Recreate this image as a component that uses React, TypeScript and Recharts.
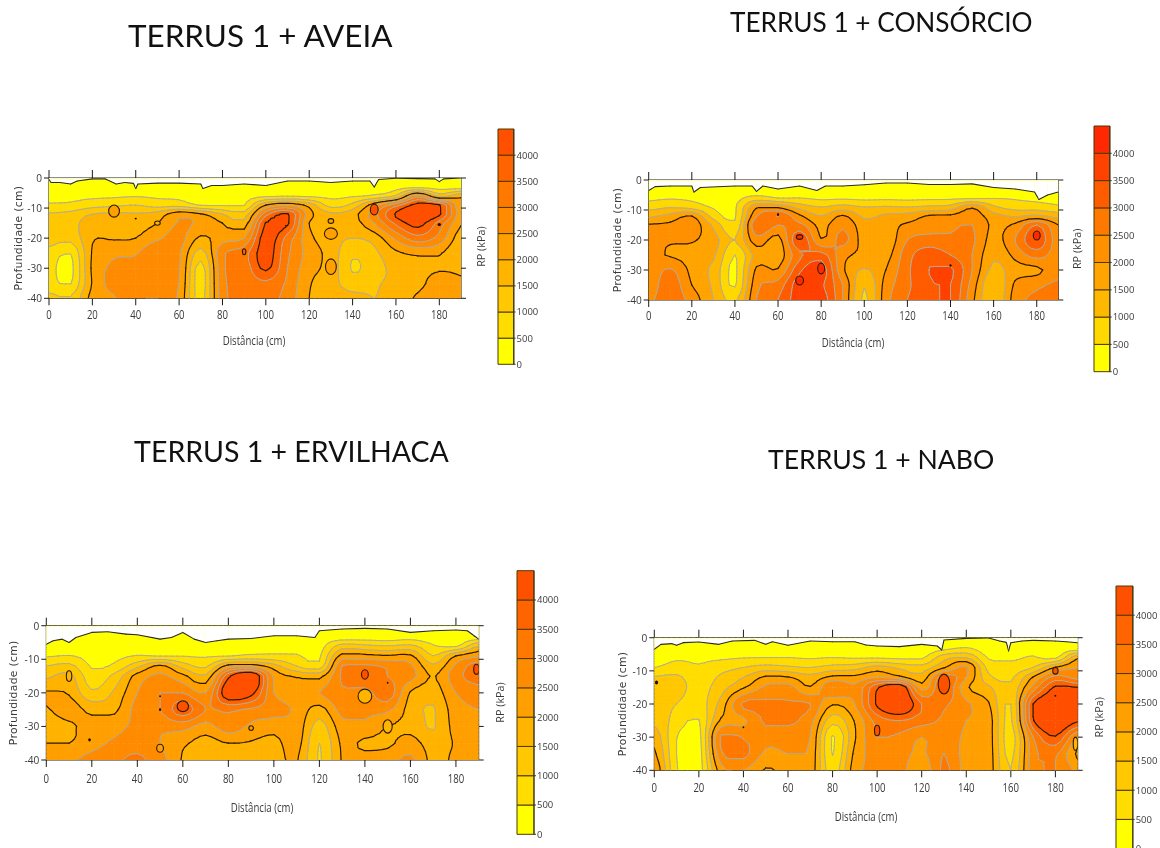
import React from 'react';
import { ComposedChart, BarChart, Bar, Scatter, XAxis, YAxis, Label } from 'recharts';

// ---------- shared axis values ----------
const distanceCols = [0, 10, 20, 30, 40, 50, 60, 70, 80, 90, 100, 110, 120, 130, 140, 150, 160, 170, 180, 190];
const depthRows = [0, -3, -6, -9, -12, -15, -20, -25, -30, -35, -40];
const xTicks = [0, 20, 40, 60, 80, 100, 120, 140, 160, 180];
const yTicks = [0, -10, -20, -30, -40];
const rpTicks = [0, 500, 1000, 1500, 2000, 2500, 3000, 3500, 4000];
const rpBands = ['b0', 'b1', 'b2', 'b3', 'b4', 'b5', 'b6', 'b7', 'b8'];
const paletteStd = ['#FFFF00', '#FFDD00', '#FFC800', '#FFB400', '#FFA000', '#FF8C00', '#FF7800', '#FF6400', '#FF5000'];
const paletteCon = ['#FFFF00', '#FFD800', '#FFB800', '#FFA400', '#FF9000', '#FF7800', '#FF5C00', '#FF4200', '#FF2800'];

// ---------- RP (kPa) per distance column, top to bottom along depthRows ----------
const aveiaGrid = [
  [0, 200, 380, 560, 1050, 1200, 1250, 800, 650, 700, 1150],
  [0, 200, 370, 600, 1150, 1300, 1150, 520, 350, 480, 1050],
  [0, 180, 400, 800, 1500, 1800, 1950, 2050, 2100, 2050, 2200],
  [0, 220, 430, 900, 1600, 1750, 1950, 2400, 2600, 2700, 2450],
  [0, 230, 470, 1000, 1550, 1800, 2000, 2450, 2700, 2800, 2900],
  [0, 210, 420, 800, 1700, 2000, 2400, 3000, 2650, 2900, 3000],
  [0, 200, 400, 800, 2300, 2550, 2700, 2600, 2550, 2500, 2400],
  [0, 180, 330, 470, 2050, 2400, 1900, 1300, 800, 750, 800],
  [0, 170, 320, 450, 1500, 2000, 2300, 2900, 2900, 2850, 2800],
  [0, 170, 320, 480, 1200, 1700, 2500, 3300, 3200, 3100, 3100],
  [0, 180, 400, 2000, 3300, 4050, 4300, 4300, 4100, 3400, 3200],
  [0, 190, 480, 2400, 4050, 4100, 3300, 3100, 3000, 2900, 2800],
  [0, 200, 420, 1800, 2200, 2000, 2150, 2300, 2200, 2050, 2000],
  [0, 200, 400, 800, 1600, 1700, 1700, 1800, 1800, 1700, 1700],
  [0, 220, 450, 1150, 1800, 1750, 1500, 1100, 950, 1250, 1650],
  [0, 240, 600, 2300, 2800, 2500, 1700, 1400, 1300, 1450, 1500],
  [0, 300, 1100, 3300, 4050, 3600, 2600, 1900, 1650, 1600, 1650],
  [0, 350, 2800, 4200, 4400, 4200, 3300, 2100, 1800, 1800, 2100],
  [0, 300, 1400, 4050, 4100, 3300, 2800, 2050, 1950, 2300, 2500],
  [0, 250, 1900, 2100, 2200, 2050, 1700, 1500, 1900, 2050, 2100],
];
const consorcioGrid = [
  [0, 100, 380, 800, 1400, 2050, 2200, 2150, 2150, 2200, 2400],
  [0, 200, 450, 950, 1650, 2100, 2050, 1950, 2550, 2800, 2800],
  [0, 150, 400, 800, 2000, 2300, 2050, 1800, 1850, 2000, 2300],
  [0, 200, 320, 450, 800, 1400, 1700, 1600, 1350, 1400, 1500],
  [0, 200, 350, 420, 450, 600, 1000, 500, 400, 450, 900],
  [0, 130, 700, 1900, 2450, 2900, 2300, 1700, 2100, 2350, 2500],
  [0, 200, 500, 1900, 3000, 2500, 1800, 1700, 2050, 2700, 3000],
  [0, 220, 500, 1300, 2100, 2650, 3400, 2900, 3400, 3800, 3800],
  [0, 180, 400, 1000, 1500, 1850, 2050, 3200, 3800, 3600, 3800],
  [0, 200, 420, 1200, 2050, 2400, 2650, 2200, 2100, 2500, 2500],
  [0, 180, 380, 1000, 1400, 1700, 1750, 1850, 1450, 1050, 900],
  [0, 180, 400, 1050, 1600, 1750, 1600, 1800, 2000, 2200, 2300],
  [0, 170, 380, 1000, 1700, 2100, 2500, 2800, 2900, 2900, 3000],
  [0, 170, 400, 1100, 2050, 2250, 2700, 3300, 3500, 3400, 3300],
  [0, 180, 400, 1200, 2100, 2400, 2600, 3000, 3600, 3500, 3500],
  [0, 170, 420, 1900, 2300, 2500, 2600, 2500, 2500, 2300, 2150],
  [0, 350, 480, 1100, 1700, 1900, 1800, 1600, 1350, 1000, 1000],
  [0, 300, 450, 800, 1450, 2100, 2500, 2150, 1800, 2100, 2250],
  [0, 0, 350, 750, 1600, 3000, 3400, 2700, 1900, 2400, 2600],
  [0, 50, 300, 600, 1300, 2000, 2200, 2200, 2300, 2600, 2600],
];
const ervilhacaGrid = [
  [0, 0, 150, 450, 1000, 1400, 2050, 1950, 1700, 2000, 2300],
  [0, 0, 200, 520, 1150, 1650, 1950, 2250, 1900, 2000, 2400],
  [0, 150, 280, 350, 450, 700, 1100, 1850, 2200, 2300, 2700],
  [0, 150, 280, 370, 600, 1150, 1600, 1900, 2300, 2600, 2900],
  [0, 180, 350, 520, 1350, 2200, 2500, 2700, 2650, 2800, 3100],
  [0, 0, 280, 480, 2100, 2600, 3000, 3000, 2600, 2500, 2700],
  [0, 180, 320, 480, 1300, 2150, 3000, 3800, 2700, 2100, 1950],
  [0, 0, 280, 450, 900, 1600, 2500, 3000, 2300, 1800, 1750],
  [0, 0, 300, 480, 2200, 3850, 4500, 3100, 2800, 2000, 1800],
  [0, 0, 350, 600, 2300, 4700, 4200, 2900, 2400, 1950, 1800],
  [0, 100, 350, 600, 1700, 2400, 2500, 2700, 2200, 1850, 1800],
  [0, 100, 330, 550, 1000, 1950, 2300, 2400, 2300, 2200, 2050],
  [0, 150, 300, 420, 700, 1850, 2500, 1800, 1300, 1000, 950],
  [0, 100, 1200, 2200, 3000, 3100, 2900, 2700, 2300, 2100, 2050],
  [0, 150, 1100, 2150, 3100, 3500, 2800, 2600, 2400, 1900, 2200],
  [0, 130, 1000, 2050, 2900, 3000, 3300, 2600, 2000, 1900, 2300],
  [0, 200, 1100, 2100, 2600, 2700, 1950, 1800, 1850, 2200, 2600],
  [0, 150, 550, 1000, 1600, 1950, 1700, 1450, 1450, 1750, 1850],
  [0, 150, 400, 2000, 2600, 2800, 2500, 2300, 2200, 2050, 2100],
  [0, 0, 1500, 2400, 3300, 3300, 2700, 2500, 2400, 2200, 2100],
];
const naboGrid = [
  [0, 50, 250, 500, 1050, 1150, 1200, 1400, 1800, 2100, 2400],
  [0, 200, 420, 700, 1100, 1200, 1000, 800, 520, 500, 550],
  [0, 200, 400, 550, 700, 800, 750, 480, 300, 250, 250],
  [0, 200, 420, 800, 1100, 1300, 1700, 2100, 3100, 2900, 2300],
  [0, 200, 480, 1000, 1500, 1950, 3100, 2400, 2950, 3150, 2500],
  [0, 100, 500, 1200, 2100, 2600, 3100, 3100, 2700, 2400, 1950],
  [0, 100, 500, 1100, 2050, 2700, 3050, 3100, 2700, 2500, 2200],
  [0, 200, 450, 1000, 1700, 2050, 3000, 2700, 2500, 2400, 2300],
  [0, 200, 500, 1200, 2150, 3000, 2050, 1200, 450, 480, 700],
  [0, 200, 450, 1300, 2150, 2600, 2500, 2050, 1950, 2150, 2300],
  [0, 150, 450, 1700, 2500, 3900, 4100, 3200, 3000, 2700, 2600],
  [0, 100, 400, 1400, 2200, 4600, 4800, 3500, 2900, 2700, 2700],
  [0, 120, 420, 1200, 1700, 2300, 3500, 3200, 2500, 2400, 2100],
  [0, 300, 1300, 1950, 3300, 3500, 3100, 2900, 2800, 3000, 3100],
  [0, 500, 1500, 2600, 2500, 2100, 2600, 2500, 2400, 2300, 2300],
  [0, 150, 450, 800, 1150, 1600, 2050, 2250, 2250, 2250, 2250],
  [0, 150, 400, 700, 900, 1100, 1000, 900, 750, 850, 1000],
  [0, 300, 550, 1000, 2050, 2700, 4000, 3950, 3000, 2800, 2800],
  [0, 150, 400, 2050, 3200, 4100, 4700, 4700, 3950, 3100, 3000],
  [0, 100, 1900, 2500, 2800, 4000, 4500, 4100, 2500, 1900, 2400],
];

// ---------- soil surface traces: distance and depth ----------
const aveiaSurfX = [0, 1, 5, 10, 13, 20, 26, 31, 35, 39, 40, 41, 50, 60, 70, 71, 75, 80, 90, 100, 110, 120, 130, 140, 148, 150, 152, 160, 170, 178, 180, 182, 190];
const aveiaSurfD = [-0.5, -1.5, -1.5, -2, -1, -0.3, -0.3, -2, -1.5, -1.8, -3.5, -2, -1.7, -1.7, -2, -3.5, -2.5, -2.5, -2, -2.5, -1, -1, -1.5, -1, -1, -3, -0.5, -0.1, -0.2, -0.3, -1.2, -0.3, 0];
const consorcioSurfX = [0, 3, 10, 20, 21, 24, 40, 48, 50, 53, 60, 70, 78, 82, 90, 100, 110, 120, 130, 140, 150, 160, 170, 179, 181, 185, 190];
const consorcioSurfD = [-3.5, -2.2, -2, -2, -4, -2.5, -2, -2, -3.8, -2, -3, -2, -3.5, -2, -2, -1.6, -1, -1, -1.5, -1.5, -1.3, -2.5, -3, -4, -6.5, -5, -4];
const ervilhacaSurfX = [0, 3, 7, 10, 13, 20, 27, 35, 40, 50, 55, 60, 65, 70, 75, 80, 90, 100, 110, 118, 120, 130, 140, 150, 160, 170, 180, 185, 188, 190];
const ervilhacaSurfD = [-5.5, -4.5, -4, -5, -3.5, -2, -1.8, -2.5, -2.7, -4, -3.5, -2, -4, -5, -4.5, -4, -3.8, -3, -3, -3.5, -1.5, -1, -0.8, -1, -2, -1.5, -1.3, -1.5, -3, -4];
const naboSurfX = [0, 3, 8, 10, 13, 20, 29, 35, 45, 50, 53, 60, 70, 80, 90, 95, 100, 110, 120, 127, 129, 130, 140, 150, 155, 158, 159, 160, 165, 170, 180, 185, 190];
const naboSurfD = [-3.5, -2, -1.8, -2.3, -1.5, -1.3, -2, -1, -0.8, -2, -1.2, -2.3, -1, -1.2, -1.2, -2.2, -2.5, -2.7, -2, -2.5, -3.7, -0.7, -0.2, -0.1, -1, -1.4, -4, -1.5, -1, -0.8, -1, -1.2, -1.5];

// ---------- small closed contours and dots: x, depth, half-width, half-height, RP ----------
const aveiaSpots = [[30, -11, 2.5, 2, 2100], [40, -13.5, 0.5, 0.3, -1], [50, -15, 1.3, 0.7, 1900], [90, -24.5, 0.8, 1, 3800], [150, -10.5, 1.8, 1.8, 4100], [130, -14.3, 1.3, 0.8, 2100], [130, -18.5, 3, 1.9, 2100], [130, -29.5, 2.5, 2.6, 2100], [180, -15.5, 0.8, 0.5, -1]];
const consorcioSpots = [[70, -19, 1.5, 0.8, 4100], [70, -33.5, 1.8, 1.5, 4100], [80, -29.5, 1.6, 1.8, 4100], [60, -11.5, 0.5, 0.5, -1], [140, -28.5, 0.5, 0.4, -1], [180, -18.5, 1.6, 1.5, 4100]];
const ervilhacaSpots = [[10, -15, 1.2, 1.6, 1900], [19, -34, 0.6, 0.5, -1], [50, -21, 0.4, 0.3, -1], [50, -25, 0.5, 0.4, -1], [60, -24, 2.5, 1.6, 4100], [50, -36.5, 1.5, 1.2, 2100], [90, -30.5, 1, 0.7, 2100], [140, -14.5, 1.5, 1.4, 4100], [140, -21, 3, 2.1, 1800], [150, -17, 0.4, 0.3, -1], [150, -30, 2, 2, 1900], [189, -13, 1.2, 1.5, 4100]];
const naboSpots = [[1, -13.5, 0.7, 0.6, -1], [40, -27, 0.4, 0.3, -1], [100, -28, 1.2, 1.6, 4100], [130, -14, 2.6, 3, 4100], [180, -10, 1.2, 1, 4100], [180, -17.5, 0.4, 0.3, -1], [189, -32, 1, 2, 1900]];

// ---------- contour helpers ----------
type V = { x: number; y: number; v: number };
const SUB = 4;
const STEP = 500;
const TOP_LEVEL = 4000;

const cubic = (a: number, b: number, c: number, d: number, t: number) => {
  const r = 0.5 * (2 * b + (c - a) * t + (2 * a - 5 * b + 4 * c - d) * t * t + (3 * b - a - 3 * c + d) * t * t * t);
  return Math.max(Math.min(a, b, c, d), Math.min(Math.max(a, b, c, d), r));
};
const sampleGrid = (g: number[][], i: number, j: number, s: number, t: number) => {
  const col = (k: number) => {
    const c = g[Math.max(0, Math.min(g.length - 1, k))];
    const at = (m: number) => c[Math.max(0, Math.min(c.length - 1, m))];
    return cubic(at(j - 1), at(j), at(j + 1), at(j + 2), t);
  };
  return cubic(col(i - 1), col(i), col(i + 1), col(i + 2), s);
};
const clipPoly = (poly: V[], level: number, above: boolean) => {
  const out: V[] = [];
  poly.forEach((p, k) => {
    const q = poly[(k + 1) % poly.length];
    const pin = above ? p.v >= level : p.v <= level;
    const qin = above ? q.v >= level : q.v <= level;
    if (pin) out.push(p);
    if (pin !== qin) {
      const f = (level - p.v) / (q.v - p.v);
      out.push({ x: p.x + (q.x - p.x) * f, y: p.y + (q.y - p.y) * f, v: level });
    }
  });
  return out;
};
const subTriangles = (g: number[][], i: number, j: number, cx: number, cy: number, cw: number, ch: number) => {
  const tris: V[][] = [];
  const pt = (a: number, b: number): V => ({
    x: cx + (cw * a) / SUB,
    y: cy + (ch * b) / SUB,
    v: sampleGrid(g, i, j, a / SUB, b / SUB) + 0.37,
  });
  for (let a = 0; a < SUB; a++) {
    for (let b = 0; b < SUB; b++) {
      const p00 = pt(a, b), p10 = pt(a + 1, b), p01 = pt(a, b + 1), p11 = pt(a + 1, b + 1);
      tris.push([p00, p10, p11], [p00, p11, p01]);
    }
  }
  return tris;
};
const f1 = (n: number) => n.toFixed(1);

const FillCell = (p: any) => {
  const { cx, cy, payload, grid, palette, sx, sy } = p;
  const { i, j } = payload;
  const cw = (distanceCols[i + 1] - distanceCols[i]) * sx;
  const ch = (depthRows[j] - depthRows[j + 1]) * sy;
  const paths: string[] = palette.map(() => '');
  subTriangles(grid, i, j, cx, cy, cw, ch).forEach((tri) => {
    palette.forEach((_: string, k: number) => {
      let poly = clipPoly(tri, k * STEP, true);
      if (k < palette.length - 1 && poly.length) poly = clipPoly(poly, (k + 1) * STEP, false);
      if (poly.length >= 3) paths[k] += 'M' + poly.map((q) => f1(q.x) + ' ' + f1(q.y)).join('L') + 'Z';
    });
  });
  return (
    <g>
      {paths.map((d, k) => (d ? <path key={k} d={d} fill={palette[k]} stroke={palette[k]} strokeWidth={0.6} /> : null))}
    </g>
  );
};

const LineCell = (p: any) => {
  const { cx, cy, payload, grid, sx, sy } = p;
  const { i, j } = payload;
  const cw = (distanceCols[i + 1] - distanceCols[i]) * sx;
  const ch = (depthRows[j] - depthRows[j + 1]) * sy;
  let grey = '';
  let black = '';
  subTriangles(grid, i, j, cx, cy, cw, ch).forEach((tri) => {
    for (let lv = STEP; lv <= TOP_LEVEL; lv += STEP) {
      const cross: V[] = [];
      tri.forEach((a, k) => {
        const b = tri[(k + 1) % 3];
        if (a.v >= lv !== b.v >= lv) {
          const f = (lv - a.v) / (b.v - a.v);
          cross.push({ x: a.x + (b.x - a.x) * f, y: a.y + (b.y - a.y) * f, v: lv });
        }
      });
      if (cross.length === 2) {
        const seg = `M${f1(cross[0].x)} ${f1(cross[0].y)}L${f1(cross[1].x)} ${f1(cross[1].y)}`;
        if (lv === 2000 || lv === 4000) black += seg;
        else grey += seg;
      }
    }
  });
  return (
    <g fill="none" strokeLinecap="round">
      {grey && <path d={grey} stroke="#B5AC96" strokeWidth={1} />}
      {black && <path d={black} stroke="#2A1C00" strokeWidth={1.2} />}
    </g>
  );
};

const SurfaceSeg = (p: any) => {
  const { cx, cy, payload, sx, sy } = p;
  const { x, y, nx, ny } = payload;
  if (nx === undefined) return <g />;
  const x2 = cx + (nx - x) * sx;
  const y2 = cy + (y - ny) * sy;
  const top = cy + y * sy;
  return (
    <g>
      <polygon points={`${f1(cx)},${f1(cy)} ${f1(x2)},${f1(y2)} ${f1(x2)},${f1(top + 0.6)} ${f1(cx)},${f1(top + 0.6)}`} fill="#FFFFFF" stroke="#FFFFFF" strokeWidth={0.3} />
      <line x1={cx} y1={cy} x2={x2} y2={y2} stroke="#2A2A20" strokeWidth={1.1} strokeLinecap="round" />
    </g>
  );
};

const SpotMark = (p: any) => {
  const { cx, cy, payload, sx, sy, palette } = p;
  const rx = payload.rx * sx;
  const ry = payload.ry * sy;
  if (payload.v < 0) return <ellipse cx={cx} cy={cy} rx={rx} ry={ry} fill="#1A1000" />;
  const fill = palette[Math.min(palette.length - 1, Math.floor(payload.v / STEP))];
  return <ellipse cx={cx} cy={cy} rx={rx} ry={ry} fill={fill} stroke="#2A1C00" strokeWidth={1.1} />;
};

// ---------- tables for the library ----------
const cellTable = distanceCols.slice(0, -1).flatMap((x, i) => depthRows.slice(0, -1).map((y, j) => ({ x, y, i, j })));
const surfaceTable = (xs: number[], ds: number[]) => xs.map((x, k) => ({ x, y: ds[k], nx: xs[k + 1], ny: ds[k + 1] }));
const spotTable = (rows: number[][]) => rows.map(([x, y, rx, ry, v]) => ({ x, y, rx, ry, v }));
const barTable = [Object.fromEntries(rpBands.map((b) => [b, STEP]).concat([['name', 'RP']]))];

const AXIS = '#1A1A1A';
const TEXT = '#3A3A3A';
const OPEN = "'Open Sans',sans-serif";

const XTick = ({ x, y, payload, dy }: any) => (
  <g transform={`translate(${x},${y + dy}) scale(0.8,1)`}>
    <text textAnchor="middle" fontFamily={OPEN} fontSize={12} fill={TEXT}>{payload.value}</text>
  </g>
);
const YTick = ({ x, y, payload }: any) => (
  <g transform={`translate(${x},${y + 4}) scale(0.92,1)`}>
    <text textAnchor="end" fontFamily={OPEN} fontSize={11} fill={TEXT}>{payload.value}</text>
  </g>
);
const BlankTick = () => <g />;

type PanelProps = {
  title: string;
  titleX: number;
  titleY: number;
  titleW: number;
  titleSize: number;
  grid: number[][];
  surfX: number[];
  surfD: number[];
  spots: number[][];
  palette: string[];
  plot: [number, number, number, number];
  bar: [number, number, number, number];
  xLabelX: number;
  xLabelY: number;
  yLabelX: number;
  tickDy: number;
};

const Panel = ({ title, titleX, titleY, titleW, titleSize, grid, surfX, surfD, spots, palette, plot, bar, xLabelX, xLabelY, yLabelX, tickDy }: PanelProps) => {
  const [l, t, r, b] = plot;
  const chartT = Math.floor(t) - 12;
  const rightPad = 8;
  const W = r + rightPad;
  const H = xLabelY + 14 - chartT;
  const sx = (r - l) / 190;
  const sy = (b - t) / 40;
  const [bl, bt, br, bb] = bar;
  const barChartT = Math.floor(bt) - 6;
  const rpLeft = 32;
  const barW = br - bl;
  return (
    <>
      <div style={{ position: 'absolute', left: titleX, top: titleY - 20, width: titleW, height: 40, lineHeight: '40px', fontFamily: 'Lato, sans-serif', fontSize: titleSize, color: '#111', whiteSpace: 'nowrap', textAlign: 'center' }}>
        {title}
      </div>
      <div style={{ position: 'absolute', left: 0, top: chartT }}>
        <ComposedChart width={W} height={H} margin={{ top: 0, right: 0, bottom: 0, left: 0 }}>
          <XAxis xAxisId="bottom" orientation="bottom" type="number" dataKey="x" domain={[0, 190]} ticks={xTicks} interval={0} height={H - (t - chartT) - (b - t)} tickSize={7} stroke={AXIS} tick={(p: any) => <XTick {...p} dy={tickDy} />} allowDataOverflow>
            <Label content={() => (
              <g transform={`translate(${xLabelX},${xLabelY + 4 - chartT}) scale(0.8,1)`}>
                <text textAnchor="middle" fontFamily={OPEN} fontSize={12} fill={TEXT}>Distância (cm)</text>
              </g>
            )} />
          </XAxis>
          <XAxis xAxisId="top" orientation="top" type="number" dataKey="x" domain={[0, 190]} ticks={xTicks} interval={0} height={t - chartT} tickSize={8} stroke={AXIS} tick={BlankTick} allowDataOverflow />
          <YAxis yAxisId="left" orientation="left" type="number" dataKey="y" domain={[-40, 0]} ticks={yTicks} interval={0} width={l} tickSize={5} stroke={AXIS} tick={(p: any) => <YTick {...p} />} allowDataOverflow
            label={{ value: 'Profundidade (cm)', angle: -90, position: 'insideLeft', offset: yLabelX, style: { textAnchor: 'middle', fontFamily: 'DejaVu Sans, sans-serif', fontSize: 10.8, letterSpacing: 0.3, fill: TEXT } }} />
          <YAxis yAxisId="right" orientation="right" type="number" dataKey="y" domain={[-40, 0]} ticks={yTicks} interval={0} width={rightPad} tickSize={5} stroke={AXIS} tick={BlankTick} allowDataOverflow />
          <Scatter name="fill" data={cellTable} xAxisId="bottom" yAxisId="left" isAnimationActive={false}
            shape={(p: any) => <FillCell {...p} grid={grid} palette={palette} sx={sx} sy={sy} />} />
          <Scatter name="contour" data={cellTable} xAxisId="bottom" yAxisId="left" isAnimationActive={false}
            shape={(p: any) => <LineCell {...p} grid={grid} sx={sx} sy={sy} />} />
          <Scatter name="spots" data={spotTable(spots)} xAxisId="bottom" yAxisId="left" isAnimationActive={false}
            shape={(p: any) => <SpotMark {...p} palette={palette} sx={sx} sy={sy} />} />
          <Scatter name="surface" data={surfaceTable(surfX, surfD)} xAxisId="bottom" yAxisId="left" isAnimationActive={false}
            shape={(p: any) => <SurfaceSeg {...p} sx={sx} sy={sy} />} />
        </ComposedChart>
      </div>
      <div style={{ position: 'absolute', left: bl - rpLeft, top: barChartT }}>
        <BarChart width={barW + rpLeft + 34} height={bb - barChartT + 8} data={barTable} barCategoryGap={0} margin={{ top: bt - barChartT, right: 0, bottom: 8, left: rpLeft }}>
          <XAxis dataKey="name" hide />
          <YAxis orientation="right" type="number" domain={[0, 4500]} ticks={rpTicks} interval={0} width={34} tickSize={2} tickMargin={1} stroke="#3A3A20" tick={{ fontFamily: OPEN, fontSize: 9.5, fill: TEXT }}
            label={{ value: 'RP (kPa)', angle: -90, position: 'insideLeft', dx: -(barW + 22), style: { textAnchor: 'middle', fontFamily: OPEN, fontSize: 10.8, fill: TEXT } }} />
          {rpBands.map((k, n) => (
            <Bar key={k} dataKey={k} stackId="rp" fill={palette[n]} stroke="#4A3A00" strokeWidth={1} isAnimationActive={false} />
          ))}
        </BarChart>
      </div>
    </>
  );
};

export default function App() {
  return (
    <div style={{ position: 'fixed', left: 0, top: 0, width: 1160, height: 848, overflow: 'hidden', background: '#fff', filter: 'blur(0.4px)' }}>
      <Panel title="TERRUS 1 + AVEIA" titleX={128} titleY={35} titleW={262} titleSize={31.4} grid={aveiaGrid} surfX={aveiaSurfX} surfD={aveiaSurfD} spots={aveiaSpots} palette={paletteStd}
        plot={[49, 178, 461, 298.3]} bar={[497.7, 129, 513.3, 364.3]} xLabelX={254} xLabelY={341} yLabelX={18} tickDy={11.5} />
      <Panel title="TERRUS 1 + CONSÓRCIO" titleX={730} titleY={22} titleW={302} titleSize={26.2} grid={consorcioGrid} surfX={consorcioSurfX} surfD={consorcioSurfD} spots={consorcioSpots} palette={paletteCon}
        plot={[648.7, 180, 1058.3, 300]} bar={[1094.3, 126, 1110, 371.7]} xLabelX={853} xLabelY={343} yLabelX={617} tickDy={11.5} />
      <Panel title="TERRUS 1 + ERVILHACA" titleX={134} titleY={451} titleW={315} titleSize={28.5} grid={ervilhacaGrid} surfX={ervilhacaSurfX} surfD={ervilhacaSurfD} spots={ervilhacaSpots} palette={paletteStd}
        plot={[46.3, 625.7, 478.7, 760]} bar={[516.7, 570.7, 533.7, 834.3]} xLabelX={262} xLabelY={808} yLabelX={13} tickDy={14} />
      <Panel title="TERRUS 1 + NABO" titleX={768} titleY={459} titleW={226} titleSize={26.6} grid={naboGrid} surfX={naboSurfX} surfD={naboSurfD} spots={naboSpots} palette={paletteStd}
        plot={[654.3, 637.7, 1077.7, 770.3]} bar={[1116, 586, 1132.7, 848.6]} xLabelX={866} xLabelY={817} yLabelX={622} tickDy={12.5} />
    </div>
  );
}
